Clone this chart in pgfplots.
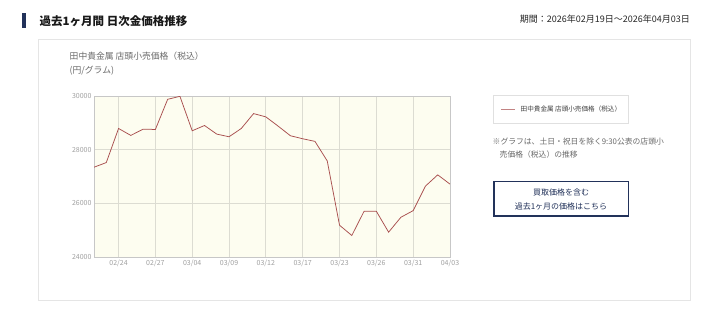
\documentclass[border=0pt]{standalone}
\usepackage{fontspec}
\setmainfont{Noto Sans CJK JP}
\usepackage{pgfplots}
\pgfplotsset{compat=1.18}
\definecolor{linec}{HTML}{A84E4E}
\definecolor{navy}{HTML}{22325A}
\definecolor{plotbg}{HTML}{FDFDF0}
\definecolor{gridc}{HTML}{DCDCD2}
\definecolor{txtg}{HTML}{6A6A6A}
\definecolor{tickg}{HTML}{A0A0A0}
\begin{document}
\begin{tikzpicture}[x=1pt,y=1pt]
\path[fill=white] (0,0) rectangle (720,314);
\fill[navy] (22,286) rectangle (25.5,301);
\node[anchor=west,inner sep=0,font=\bfseries\fontsize{11.5}{12}\selectfont,text=black!90] at (39.5,293) {過去1ヶ月間 日次金価格推移};
\node[anchor=east,inner sep=0,font=\fontsize{9}{10}\selectfont,text=black!85] at (690,295) {期間：2026年02月19日～2026年04月03日};
\draw[black!10] (38.5,14) rectangle (690,275);
\node[anchor=west,inner sep=0,font=\fontsize{8.8}{10}\selectfont,text=txtg] at (69.5,258) {田中貴金属 店頭小売価格（税込）};
\node[anchor=west,inner sep=0,font=\fontsize{8.8}{10}\selectfont,text=txtg] at (69.5,243) {(円/グラム)};
\begin{axis}[
  at={(94pt,57pt)}, anchor=south west,
  scale only axis, width=356pt, height=161pt,
  xmin=0, xmax=29, ymin=24000, ymax=30000,
  axis background/.style={fill=plotbg},
  xtick={2,5,8,11,14,17,20,23,26,29},
  xticklabels={02/24,02/27,03/04,03/09,03/12,03/17,03/23,03/26,03/31,04/03},
  ytick={24000,26000,28000,30000},
  scaled y ticks=false,
  yticklabel style={/pgf/number format/fixed, /pgf/number format/1000 sep={}},
  /pgf/number format/assume math mode=true,
  xmajorgrids, ymajorgrids,
  grid style={gridc, line width=0.8pt},
  axis line style={black!22, line width=0.6pt},
  tick style={draw=none},
  ticklabel style={font=\fontsize{7}{8}\selectfont, text=tickg},
  xticklabel style={yshift=1pt},
  yticklabel style={xshift=1pt},
]
\addplot[linec, line width=0.75pt, mark=none] coordinates {
(0,27346) (1,27519) (2,28790) (3,28531) (4,28765) (5,28753)
(6,29877) (7,29988) (8,28704) (9,28901) (10,28580) (11,28481)
(12,28790) (13,29345) (14,29222) (15,28877) (16,28519) (17,28407)
(18,28309) (19,27580) (20,25185) (21,24802) (22,25704) (23,25704)
(24,24926) (25,25481) (26,25728) (27,26642) (28,27062) (29,26716)
};
\end{axis}
% legend box
\draw[black!12] (493,191) rectangle (628,219);
\draw[linec!70!white, line width=0.7pt] (501,205) -- (515,205);
\node[anchor=west,inner sep=0,font=\fontsize{6.6}{7}\selectfont,text=black!75] at (520.5,205) {田中貴金属 店頭小売価格（税込）};
% note
\node[anchor=west,inner sep=0,font=\fontsize{7.8}{9}\selectfont,text=txtg] at (492.5,172) {※グラフは、土日・祝日を除く9:30公表の店頭小};
\node[anchor=west,inner sep=0,font=\fontsize{7.8}{9}\selectfont,text=txtg] at (499.5,159) {売価格（税込）の推移};
% button
\draw[navy, line width=1.6pt] (494,98) rectangle (628.5,132.5);
\node[inner sep=0,font=\fontsize{8}{9}\selectfont,text=navy] at (561,122) {買取価格を含む};
\node[inner sep=0,font=\fontsize{8}{9}\selectfont,text=navy] at (561,108) {過去1ヶ月の価格はこちら};
\end{tikzpicture}
\end{document}
